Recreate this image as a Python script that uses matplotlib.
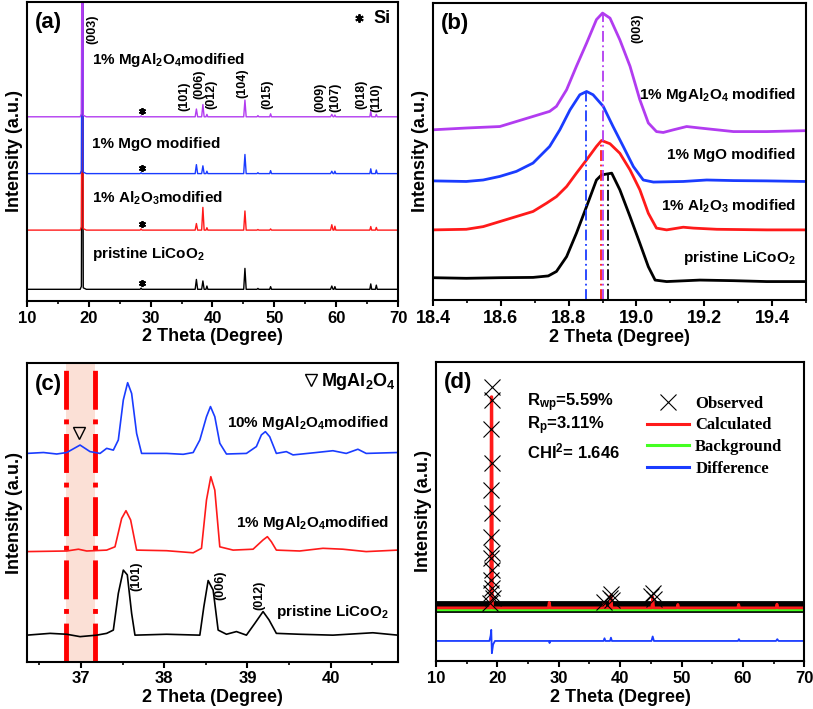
import numpy as np
import matplotlib
matplotlib.use("Agg")
import matplotlib.pyplot as plt
from matplotlib.ticker import MultipleLocator
from matplotlib.lines import Line2D

plt.rcParams['font.family'] = ['Liberation Sans', 'DejaVu Sans']
plt.rcParams['font.weight'] = 'bold'
plt.rcParams['mathtext.fontset'] = 'custom'
plt.rcParams['mathtext.rm'] = 'Liberation Sans:bold'
plt.rcParams['mathtext.it'] = 'Liberation Sans:bold'
plt.rcParams['mathtext.bf'] = 'Liberation Sans:bold'

PURPLE = '#b23cf0'
BLUE = '#1a3cff'
RED = '#ff1a1a'
BLACK = '#000000'
GREEN = '#44ff22'

# ---------------- (a) XRD patterns, 10-70 deg ----------------
a_x = [10, 18.6, 18.8, 18.97, 19.1, 19.6,
       28.3, 28.45, 28.6, 37.2, 37.4, 37.6, 38.25, 38.45, 38.65,
       38.95, 39.1, 39.25, 45.05, 45.25, 45.45, 47.2, 47.35, 47.5,
       49.25, 49.4, 49.55, 59.1, 59.3, 59.5, 59.65, 59.8, 59.95,
       65.45, 65.6, 65.75, 66.35, 66.5, 66.65, 70]
a_pristine = [0, 0, 1.0, 130, 0.5, 0,
              0, 0.4, 0, 0, 3.3, 0, 0, 2.8, 0,
              0, 1.1, 0, 0, 7.0, 0, 0, 0.3, 0,
              0, 0.9, 0, 0, 1.1, 0, 0, 0.9, 0,
              0, 1.8, 0, 0, 1.4, 0, 0]
a_al2o3 = [0, 0, 1.1, 130, 0.5, 0,
           0, 0.4, 0, 0, 2.2, 0, 0, 7.6, 0,
           0, 0.8, 0, 0, 6.4, 0, 0, 0.2, 0,
           0, 0.4, 0, 0, 1.8, 0, 0, 1.3, 0,
           0, 1.2, 0, 0, 0.9, 0, 0]
a_mgo = [0, 0, 1.0, 130, 0.5, 0,
         0, 0.3, 0, 0, 3.0, 0, 0, 2.6, 0,
         0, 0.8, 0, 0, 6.4, 0, 0, 0.3, 0,
         0, 1.0, 0, 0, 0.8, 0, 0, 0.8, 0,
         0, 1.6, 0, 0, 1.2, 0, 0]
a_mgal = [0, 0, 1.0, 130, 0.5, 0,
          0, 0.3, 0, 0, 2.6, 0, 0, 4.1, 0,
          0, 0.8, 0, 0, 5.6, 0, 0, 0.4, 0,
          0, 1.0, 0, 0, 0.8, 0, 0, 0.6, 0,
          0, 1.8, 0, 0, 0.8, 0, 0]
a_offsets = [3.9, 23.7, 42.6, 61.6]
a_names = [r'pristine LiCoO$_2$', r'1% Al$_2$O$_3$modified',
           '1% MgO modified', r'1% MgAl$_2$O$_4$modified']
a_label_y = [15.6, 34.2, 52.5, 80.7]
si_x = 28.6
hkl_a = ['(003)', '(101)', '(006)', '(012)', '(104)', '(015)',
         '(009)', '(107)', '(018)', '(110)']
hkl_a_x = [20.5, 35.5, 37.8, 39.9, 44.8, 48.9, 57.5, 59.8, 64.1, 66.5]
hkl_a_y = [91, 68.4, 72.4, 69, 73, 69, 68, 68, 69, 68]

# ---------------- (b) (003) peak zoom ----------------
b_pristine_x = [18.400, 18.498, 18.597, 18.695, 18.740, 18.764, 18.794, 18.823,
                18.853, 18.882, 18.897, 18.927, 18.951, 18.981, 19.010, 19.035,
                19.055, 19.089, 19.187, 19.286, 19.384, 19.497]
b_pristine_y = [7.5, 7.3, 7.5, 7.6, 8.1, 9.6, 14.6, 22.5, 31.5, 40.4, 42.1, 42.7,
                37.1, 28.1, 19.1, 11.2, 6.7, 6.2, 6.7, 6.5, 6.2, 6.2]
b_al2o3_x = [18.400, 18.498, 18.548, 18.597, 18.646, 18.695, 18.735, 18.764,
             18.794, 18.823, 18.853, 18.882, 18.897, 18.922, 18.951, 18.981,
             19.010, 19.035, 19.059, 19.089, 19.138, 19.168, 19.237, 19.384, 19.497]
b_al2o3_y = [23.6, 23.8, 24.7, 26.4, 28.1, 29.8, 32.6, 34.8, 38.2, 42.7, 47.2,
             51.7, 53.7, 52.6, 49.4, 43.8, 37.1, 29.2, 24.2, 23.6, 24.5, 24.2,
             23.8, 23.6, 23.6]
b_mgo_x = [18.400, 18.498, 18.548, 18.597, 18.646, 18.695, 18.744, 18.774,
           18.804, 18.833, 18.853, 18.872, 18.902, 18.931, 18.961, 18.991,
           19.020, 19.050, 19.138, 19.207, 19.286, 19.384, 19.497]
b_mgo_y = [40.1, 39.9, 40.4, 41.6, 43.3, 46.1, 51.7, 57.3, 64.0, 69.1, 70.2,
           69.1, 65.2, 58.4, 51.7, 44.9, 40.4, 39.7, 39.9, 40.4, 40.2, 40.1, 39.9]
b_mgal_x = [18.400, 18.498, 18.597, 18.646, 18.695, 18.744, 18.764, 18.794,
            18.823, 18.853, 18.882, 18.900, 18.922, 18.951, 18.981, 19.010,
            19.035, 19.059, 19.079, 19.109, 19.148, 19.187, 19.286, 19.384, 19.497]
b_mgal_y = [57.3, 57.9, 58.4, 60.1, 61.8, 63.5, 65.2, 70.8, 78.7, 86.5, 94.4,
            96.6, 94.9, 87.6, 78.7, 67.4, 59.6, 56.7, 56.4, 57.3, 58.4, 57.9,
            56.7, 56.7, 57.0]
b_peak_pos = [18.917, 18.895, 18.850, 18.902]
b_peak_top = [42.7, 53.7, 70.2, 96.6]
b_label_y = [14.0, 31.7, 48.9, 69.0]

# ---------------- (c) 36.3-40.8 deg ----------------
c_mgal10_x = [36.348, 36.548, 36.708, 36.828, 36.988, 37.108, 37.228, 37.308,
              37.388, 37.448, 37.508, 37.560, 37.608, 37.668, 37.728, 38.028,
              38.228, 38.348, 38.428, 38.508, 38.556, 38.608, 38.668, 38.748,
              38.988, 39.108, 39.168, 39.216, 39.268, 39.348, 39.468, 39.548,
              39.828, 40.028, 40.188, 40.328, 40.428, 40.808]
c_mgal10_y = [69.8, 70.1, 69.6, 70.1, 72.6, 70.4, 69.8, 71.5, 70.9, 74.3, 87.7,
              93.5, 89.9, 76.5, 69.8, 69.8, 69.5, 70.1, 74.3, 82.1, 85.5, 82.1,
              73.2, 69.6, 69.8, 72.1, 76.0, 77.1, 75.4, 69.8, 70.4, 69.3, 70.1,
              70.7, 69.8, 71.2, 69.8, 70.1]
c_mgal1_x = [36.348, 36.828, 36.968, 37.068, 37.308, 37.408, 37.488, 37.540,
             37.596, 37.668, 38.028, 38.348, 38.448, 38.508, 38.560, 38.608,
             38.668, 38.828, 39.068, 39.188, 39.240, 39.288, 39.348, 39.628,
             39.908, 40.148, 40.428, 40.808]
c_mgal1_y = [36.9, 37.1, 37.7, 37.1, 37.4, 38.5, 48.0, 50.6, 47.5, 37.4, 37.2,
             36.5, 38.0, 54.2, 62.0, 57.5, 38.5, 37.4, 37.7, 40.8, 41.9, 40.2,
             37.4, 37.1, 38.0, 37.7, 36.9, 37.4]
c_pristine_x = [36.348, 36.628, 36.828, 36.988, 37.188, 37.308, 37.388, 37.448,
                37.508, 37.556, 37.608, 37.648, 38.028, 38.428, 38.476, 38.528,
                38.588, 38.648, 38.748, 38.868, 38.988, 39.088, 39.188, 39.260,
                39.348, 39.628, 40.028, 40.508, 40.808]
c_pristine_y = [8.9, 9.5, 9.2, 8.4, 8.9, 9.5, 10.6, 22.9, 30.7, 29.1, 16.2, 8.9,
                9.2, 8.9, 18.4, 27.2, 24.0, 10.6, 9.2, 10.1, 8.9, 12.8, 16.8,
                14.0, 9.5, 9.2, 8.9, 9.7, 8.9]
c_band = [36.82, 37.17]
c_names = [r'pristine LiCoO$_2$', r'1% MgAl$_2$O$_4$modified',
           r'10% MgAl$_2$O$_4$modified']
c_label_y = [16.8, 46.6, 79.9]
hkl_c = ['(101)', '(006)', '(012)']
hkl_c_x = [37.67, 38.68, 39.14]
hkl_c_y = [28.5, 25.7, 22.3]

# ---------------- (d) Rietveld refinement ----------------
obs_x = [19.05, 19.08, 19.02, 19.11, 19.0, 19.13, 18.98, 19.15, 18.96, 19.17,
         18.94, 19.2, 18.9, 19.25, 18.85,
         37.4, 38.3, 38.5, 38.7, 45.1, 45.3, 45.5]
obs_y = [91.6, 87.2, 77.4, 66.0, 57.1, 49.3, 41.5, 36.0, 34.3, 30.4,
         27.1, 24.3, 22.6, 20.9, 19.5,
         19.8, 20.9, 22.3, 20.5, 21.6, 22.8, 20.6]
obs_base_x = [10, 70]
obs_base_y = [17.9, 17.9]
calc_x = [10, 18.9, 19.0, 19.1, 19.2, 28.3, 28.45, 28.6, 37.25, 37.4, 37.55,
          38.35, 38.5, 38.65, 45.15, 45.3, 45.45, 49.25, 49.4, 49.55,
          59.15, 59.3, 59.45, 65.4, 65.55, 65.7, 70]
calc_y = [17.75, 17.75, 88.3, 88.3, 17.75, 17.75, 19.6, 17.75, 17.75, 19.4,
          17.75, 17.75, 22.0, 17.75, 17.75, 21.5, 17.75, 17.75, 18.9, 17.75,
          17.75, 18.9, 17.75, 17.75, 19.0, 17.75, 17.75]
bkg_x = [10, 70]
bkg_y = [17.3, 17.3]
diff_x = [10, 18.7, 18.9, 19.0, 19.1, 19.3, 19.6, 28.4, 28.5, 28.6,
          37.3, 37.45, 37.6, 38.35, 38.5, 38.65, 45.1, 45.3, 45.5,
          59.2, 59.35, 59.5, 65.4, 65.6, 65.8, 70]
diff_y = [6.7, 6.7, 8.5, 10.4, 2.6, 5.5, 6.7, 6.7, 6.0, 6.7,
          6.7, 7.6, 6.7, 6.7, 7.8, 6.7, 6.7, 8.2, 6.7,
          6.7, 7.3, 6.7, 6.7, 7.3, 6.7, 6.7]
fit_text = [r'R$_{wp}$=5.59%', r'R$_p$=3.11%', r'CHI$^2$= 1.646']
fit_text_y = [86.3, 78.5, 69.9]

fig = plt.figure(figsize=(8.13, 7.09), dpi=100)
axa = fig.add_axes([0.0332, 0.5755, 0.4563, 0.4217])
axb = fig.add_axes([0.5326, 0.5769, 0.4588, 0.4189])
axc = fig.add_axes([0.0332, 0.0667, 0.4563, 0.4209])
axd = fig.add_axes([0.5363, 0.0677, 0.4530, 0.4221])


def style(ax, label, size=12):
    for s in ax.spines.values():
        s.set_linewidth(1.5)
    ax.set_yticks([])
    ax.tick_params(axis='x', which='major', direction='out', length=4,
                   width=1.5, labelsize=size, pad=3)
    ax.tick_params(axis='x', which='minor', direction='out', length=2.5,
                   width=1.2)
    ax.set_xlabel('2 Theta (Degree)', fontsize=13, fontweight='bold', labelpad=2)
    ax.set_ylabel('Intensity (a.u.)', fontsize=13, fontweight='bold', labelpad=3)
    ax.text(0.02, 0.93, label, transform=ax.transAxes, fontsize=16,
            fontweight='bold', va='center', ha='left')


# (a)
cols = [BLACK, RED, BLUE, PURPLE]
series_a = [a_pristine, a_al2o3, a_mgo, a_mgal]
for ys, off, c, name, ly in zip(series_a, a_offsets, cols, a_names, a_label_y):
    axa.plot(a_x, np.array(ys) + off, color=c, lw=1.0)
    axa.plot([si_x], [off + 2.0], marker=(6, 2, 0), ms=5, mew=1.3, color='k')
    axa.text(20.5, ly, name, fontsize=11, fontweight='bold', va='center')
for t, x, y in zip(hkl_a, hkl_a_x, hkl_a_y):
    axa.text(x, y, t, rotation=90, fontsize=9, fontweight='bold',
             ha='center', va='center')
axa.plot([63.7], [94.6], marker=(6, 2, 0), ms=6, mew=1.4, color='k')
axa.text(66.0, 94.6, 'Si', fontsize=13, fontweight='bold', va='center')
axa.set_xlim(10, 70)
axa.set_ylim(0, 100)
axa.xaxis.set_major_locator(MultipleLocator(10))
axa.xaxis.set_minor_locator(MultipleLocator(5))
style(axa, '(a)')

# (b)
series_b = [(b_pristine_x, b_pristine_y), (b_al2o3_x, b_al2o3_y),
            (b_mgo_x, b_mgo_y), (b_mgal_x, b_mgal_y)]
for (xs, ys), c, name, ly in zip(series_b, cols, a_names, b_label_y):
    axb.plot(xs, ys, color=c, lw=2.0)
    axb.text(19.47, ly, name.replace('modified', ' modified').replace('  ', ' '),
             fontsize=11, fontweight='bold', ha='right', va='center')
for p, top, c in zip(b_peak_pos, b_peak_top, cols):
    axb.vlines(p, 0, top, colors=c, lw=1.3, linestyles=(0, (6, 2, 1, 2)))
axb.text(19.003, 91.6, '(003)', rotation=90, fontsize=9, fontweight='bold',
         ha='center', va='center')
axb.set_xlim(18.4, 19.5)
axb.set_ylim(0, 100)
axb.xaxis.set_major_locator(MultipleLocator(0.2))
axb.xaxis.set_minor_locator(MultipleLocator(0.1))
axb.xaxis.set_major_formatter(matplotlib.ticker.FormatStrFormatter('%.1f'))
style(axb, '(b)', size=13)

# (c)
axc.axvspan(c_band[0], c_band[1], color='#fbe0d6', lw=0)
for b in c_band:
    axc.axvline(b, color='#ff0000', lw=3.5, linestyle=(0, (8, 2, 1, 2)))
series_c = [(c_pristine_x, c_pristine_y), (c_mgal1_x, c_mgal1_y),
            (c_mgal10_x, c_mgal10_y)]
for (xs, ys), c, name, ly in zip(series_c, [BLACK, RED, BLUE], c_names, c_label_y):
    axc.plot(xs, ys, color=c, lw=1.2)
    axc.text(40.7, ly, name, fontsize=11, fontweight='bold', ha='right',
             va='center')
for t, x, y in zip(hkl_c, hkl_c_x, hkl_c_y):
    axc.text(x, y, t, rotation=90, fontsize=9, fontweight='bold',
             ha='center', va='center')
axc.plot([36.98], [76.5], marker='v', ms=9, mfc='none', mec='k', mew=1.0)
axc.plot([39.77], [94.4], marker='v', ms=9, mfc='none', mec='k', mew=1.0)
axc.text(39.88, 94.0, r'MgAl$_2$O$_4$', fontsize=13, fontweight='bold',
         va='center')
axc.set_xlim(36.35, 40.81)
axc.set_ylim(0, 100)
axc.xaxis.set_major_locator(MultipleLocator(1))
axc.xaxis.set_minor_locator(MultipleLocator(0.5))
style(axc, '(c)')

# (d)
axd.plot(obs_base_x, obs_base_y, color='k', lw=8.5, solid_capstyle='butt')
axd.plot(bkg_x, bkg_y, color=GREEN, lw=2.5)
axd.plot(calc_x, calc_y, color=RED, lw=2.0)
axd.plot(obs_x, obs_y, ls='none', marker='x', ms=11, mew=0.8, color='k')
axd.plot(diff_x, diff_y, color=BLUE, lw=1.3)
for t, y in zip(fit_text, fit_text_y):
    axd.text(24.8, y, t, fontsize=12, fontweight='bold', va='center')
handles = [Line2D([], [], ls='none', marker='x', ms=12, mew=0.8, color='k'),
           Line2D([], [], color=RED, lw=2.2),
           Line2D([], [], color=GREEN, lw=2.2),
           Line2D([], [], color=BLUE, lw=2.2)]
axd.legend(handles, ['Observed', 'Calculated', 'Background', 'Difference'],
           loc='upper left', bbox_to_anchor=(0.55, 0.915), frameon=False,
           borderpad=0, handlelength=2.5, handletextpad=0.4,
           labelspacing=0.35,
           prop={'family': 'Liberation Serif', 'weight': 'bold', 'size': 12})
axd.set_xlim(10, 70)
axd.set_ylim(0, 100)
axd.xaxis.set_major_locator(MultipleLocator(10))
axd.xaxis.set_minor_locator(MultipleLocator(5))
style(axd, '(d)')

fig.savefig('out.png', dpi=100)
